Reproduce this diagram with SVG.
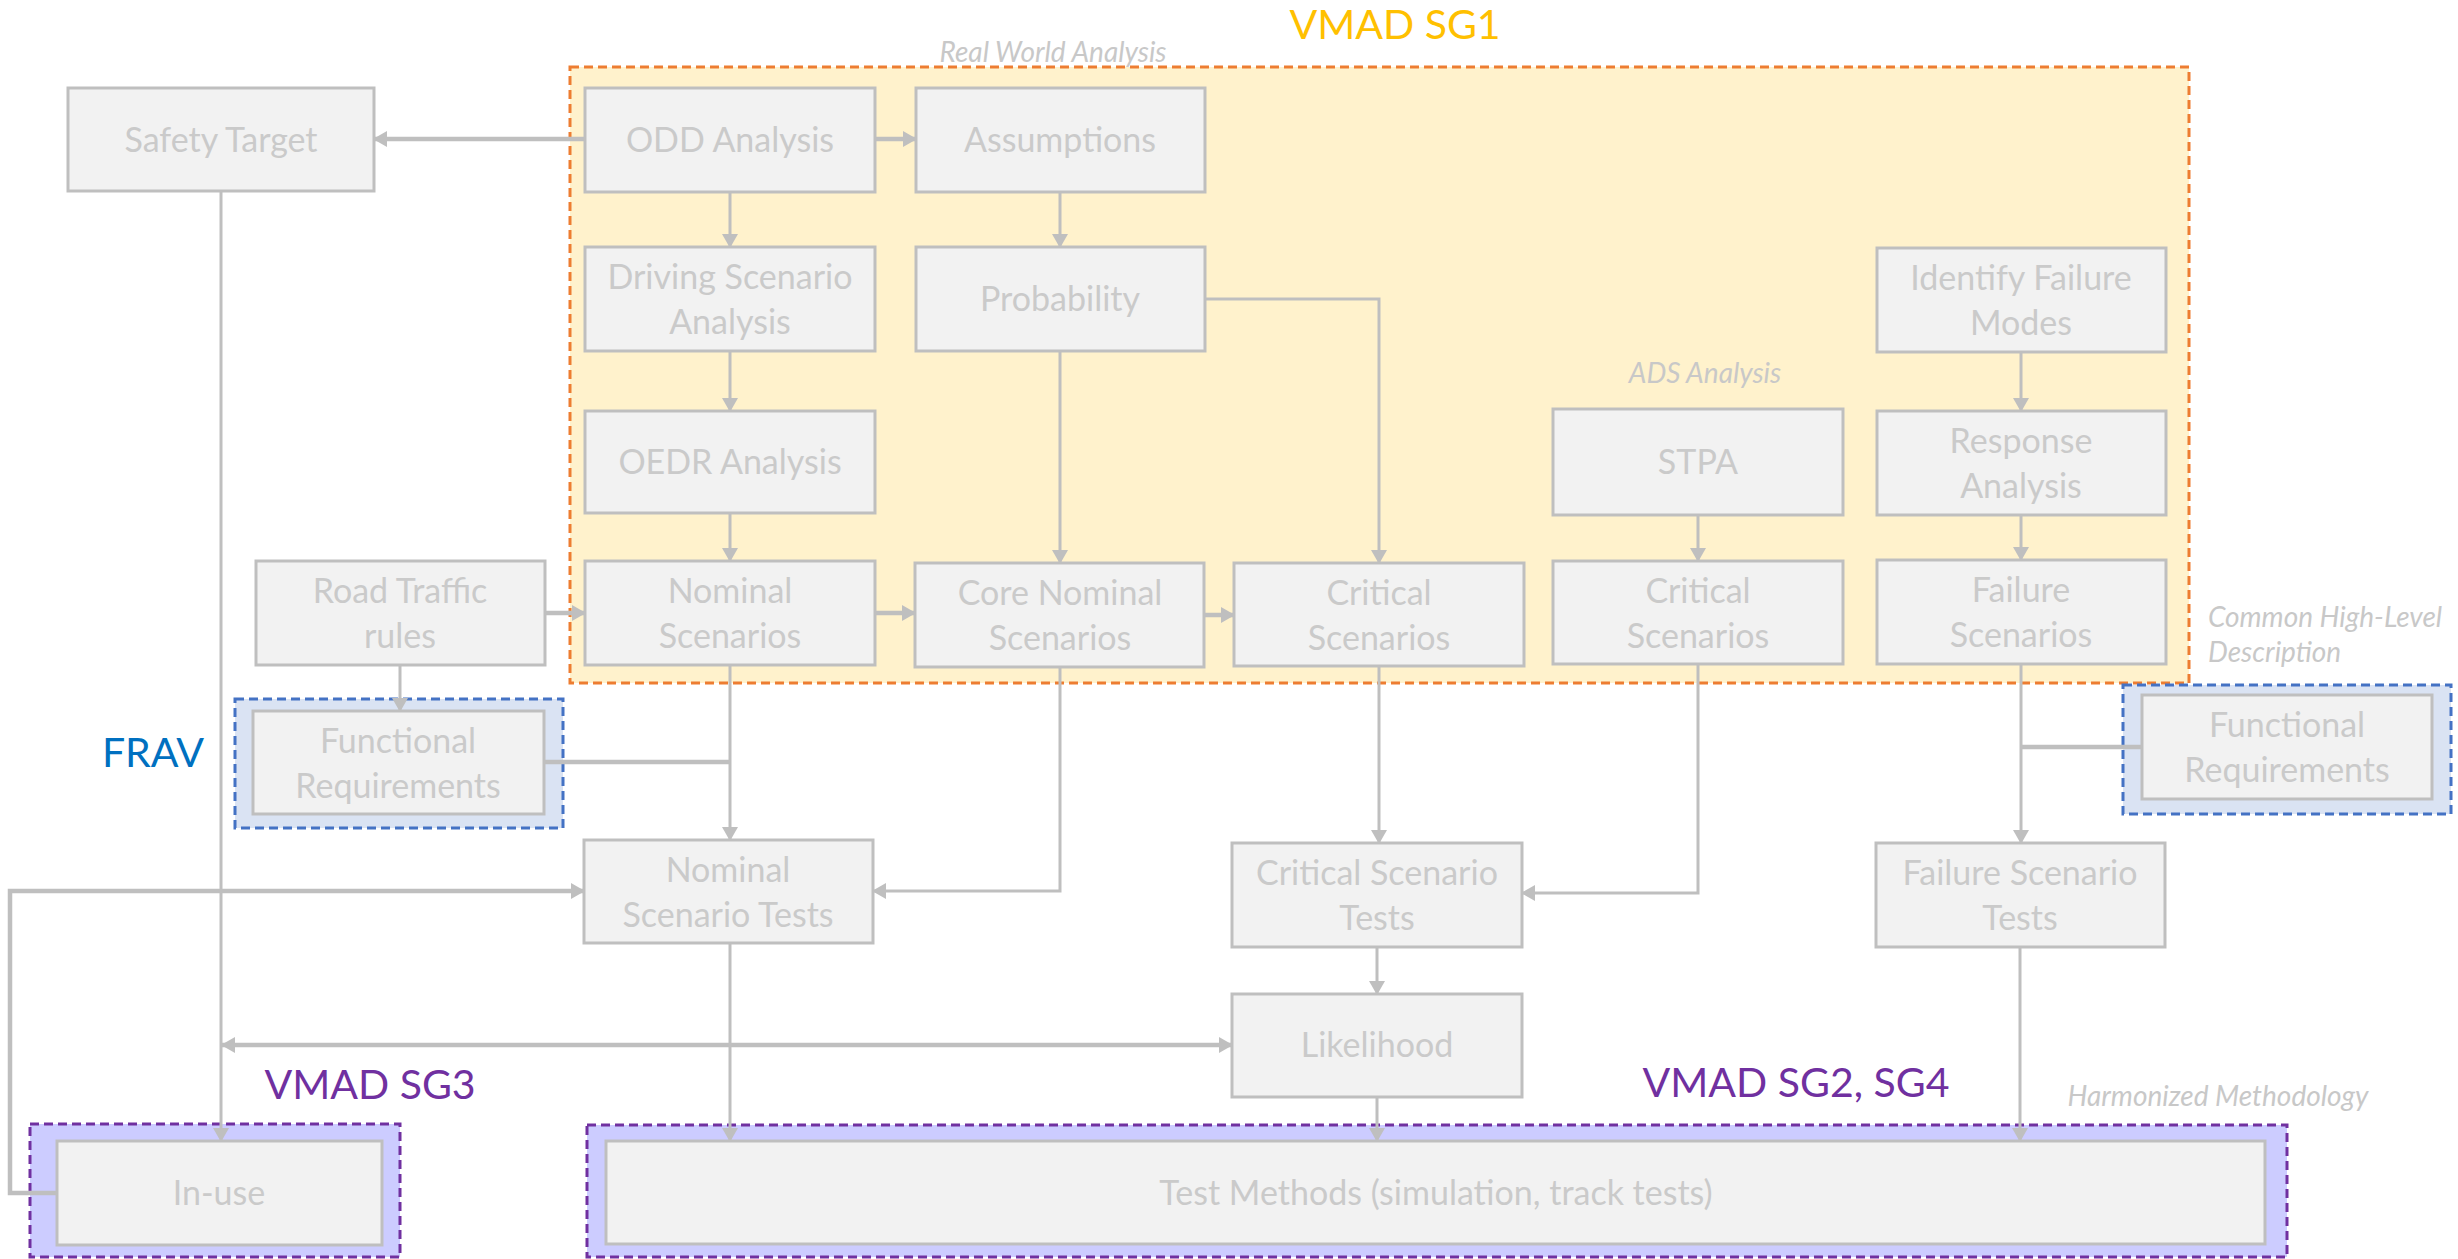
<svg xmlns="http://www.w3.org/2000/svg" width="2458" height="1259" viewBox="0 0 2458 1259">
<defs>
<style>
.box{fill:#F2F2F2;stroke:#BFBFBF;stroke-width:3}
.t{font-family:Lato,"Liberation Sans",sans-serif;font-size:34px;fill:#CACACA;text-anchor:middle}
.it{font-family:Lato,"Liberation Sans",sans-serif;font-style:italic;font-size:28px;fill:#C8C8C8}
.big{font-family:Lato,"Liberation Sans",sans-serif;font-size:41px}
.c{fill:none;stroke:#BFBFBF;stroke-width:3}
.ck{fill:none;stroke:#BFBFBF;stroke-width:4.5}
.a{marker-end:url(#arr)}
</style>
<marker id="arr" viewBox="0 0 14 16" refX="13" refY="8" markerWidth="14" markerHeight="16" markerUnits="userSpaceOnUse" orient="auto-start-reverse">
<path d="M0,0 L14,8 L0,16 z" fill="#BFBFBF"/>
</marker>
</defs>
<rect width="2458" height="1259" fill="#FFFFFF"/>

<g id="regions">
<rect x="570" y="67" width="1619" height="616" fill="#FFF2CC" stroke="#ED7D31" stroke-width="3" stroke-dasharray="9 5"/>
<rect x="235" y="699" width="328" height="129" fill="#DAE3F3" stroke="#4472C4" stroke-width="3" stroke-dasharray="9 5"/>
<rect x="2123" y="685" width="328" height="129" fill="#DAE3F3" stroke="#4472C4" stroke-width="3" stroke-dasharray="9 5"/>
<rect x="30" y="1124" width="370" height="133" fill="#CCCCFF" stroke="#7030A0" stroke-width="3" stroke-dasharray="9 5"/>
<rect x="587" y="1125" width="1700" height="132" fill="#CCCCFF" stroke="#7030A0" stroke-width="3" stroke-dasharray="9 5"/>
</g>

<g id="labels">
<text class="big" x="1395" y="39" fill="#FFC000" text-anchor="middle">VMAD SG1</text>
<text class="it" x="1053" y="62" text-anchor="middle">Real World Analysis</text>
<text class="it" x="1705" y="383" text-anchor="middle">ADS Analysis</text>
<text class="it" x="2208" y="627">Common High-Level</text>
<text class="it" x="2208" y="662">Description</text>
<text class="big" x="153" y="767" fill="#0070C0" text-anchor="middle">FRAV</text>
<text class="big" x="370" y="1099" fill="#7030A0" text-anchor="middle">VMAD SG3</text>
<text class="big" x="1796" y="1097" fill="#7030A0" text-anchor="middle">VMAD SG2, SG4</text>
<text class="it" x="2218" y="1106" text-anchor="middle">Harmonized Methodology</text>
</g>

<g id="connectors">
<path class="ck a" d="M585,139 H374"/>
<path class="ck a" d="M875,139 H916"/>
<path class="c a" d="M730,192 V247"/>
<path class="c a" d="M1060,192 V247"/>
<path class="c a" d="M730,351 V411"/>
<path class="c a" d="M1060,351 V563"/>
<path class="c a" d="M1205,299 H1379 V563"/>
<path class="c a" d="M730,513 V561"/>
<path class="ck a" d="M545,613 H585"/>
<path class="ck a" d="M875,613 H915"/>
<path class="ck a" d="M1204,615 H1234"/>
<path class="c a" d="M400,665 V711"/>
<path class="c a" d="M730,665 V840"/>
<path class="ck" d="M544,762 H730"/>
<path class="c a" d="M1060,667 V891 H873"/>
<path class="c a" d="M1698,515 V561"/>
<path class="c a" d="M1698,664 V893 H1522"/>
<path class="c a" d="M1379,666 V843"/>
<path class="c a" d="M2021,352 V411"/>
<path class="c a" d="M2021,515 V560"/>
<path class="c a" d="M2021,664 V843"/>
<path class="ck" d="M2142,747 H2021"/>
<path class="c a" d="M1377,947 V994"/>
<path class="c a" d="M1377,1097 V1141"/>
<path class="c a" d="M2020,947 V1141"/>
<path class="c a" d="M730,943 V1141"/>
<path class="c a" d="M221,191 V1141"/>
<path class="ck a" d="M222,1045 H1232" marker-start="url(#arr)"/>
<path class="ck a" d="M57,1193 H10 V891 H584"/>
</g>

<g id="safety-target"><rect class="box" x="68" y="88" width="306" height="103"/><text class="t" x="221" y="152">Safety Target</text></g>
<g id="odd-analysis"><rect class="box" x="585" y="88" width="290" height="104"/><text class="t" x="730" y="152">ODD Analysis</text></g>
<g id="assumptions"><rect class="box" x="916" y="88" width="289" height="104"/><text class="t" x="1060" y="152">Assumptions</text></g>
<g id="driving-scenario-analysis"><rect class="box" x="585" y="247" width="290" height="104"/><text class="t" x="730" y="289">Driving Scenario</text><text class="t" x="730" y="334">Analysis</text></g>
<g id="probability"><rect class="box" x="916" y="247" width="289" height="104"/><text class="t" x="1060" y="311">Probability</text></g>
<g id="oedr-analysis"><rect class="box" x="585" y="411" width="290" height="102"/><text class="t" x="730" y="474">OEDR Analysis</text></g>
<g id="road-traffic-rules"><rect class="box" x="256" y="561" width="289" height="104"/><text class="t" x="400" y="603">Road Traffic</text><text class="t" x="400" y="648">rules</text></g>
<g id="nominal-scenarios"><rect class="box" x="585" y="561" width="290" height="104"/><text class="t" x="730" y="603">Nominal</text><text class="t" x="730" y="648">Scenarios</text></g>
<g id="core-nominal-scenarios"><rect class="box" x="915" y="563" width="289" height="104"/><text class="t" x="1060" y="605">Core Nominal</text><text class="t" x="1060" y="650">Scenarios</text></g>
<g id="critical-scenarios-1"><rect class="box" x="1234" y="563" width="290" height="103"/><text class="t" x="1379" y="605">Critical</text><text class="t" x="1379" y="650">Scenarios</text></g>
<g id="stpa"><rect class="box" x="1553" y="409" width="290" height="106"/><text class="t" x="1698" y="474">STPA</text></g>
<g id="critical-scenarios-2"><rect class="box" x="1553" y="561" width="290" height="103"/><text class="t" x="1698" y="603">Critical</text><text class="t" x="1698" y="648">Scenarios</text></g>
<g id="identify-failure-modes"><rect class="box" x="1877" y="248" width="289" height="104"/><text class="t" x="2021" y="290">Identify Failure</text><text class="t" x="2021" y="335">Modes</text></g>
<g id="response-analysis"><rect class="box" x="1877" y="411" width="289" height="104"/><text class="t" x="2021" y="453">Response</text><text class="t" x="2021" y="498">Analysis</text></g>
<g id="failure-scenarios"><rect class="box" x="1877" y="560" width="289" height="104"/><text class="t" x="2021" y="602">Failure</text><text class="t" x="2021" y="647">Scenarios</text></g>
<g id="functional-requirements-left"><rect class="box" x="253" y="711" width="291" height="103"/><text class="t" x="398" y="753">Functional</text><text class="t" x="398" y="798">Requirements</text></g>
<g id="functional-requirements-right"><rect class="box" x="2142" y="695" width="290" height="104"/><text class="t" x="2287" y="737">Functional</text><text class="t" x="2287" y="782">Requirements</text></g>
<g id="nominal-scenario-tests"><rect class="box" x="584" y="840" width="289" height="103"/><text class="t" x="728" y="882">Nominal</text><text class="t" x="728" y="927">Scenario Tests</text></g>
<g id="critical-scenario-tests"><rect class="box" x="1232" y="843" width="290" height="104"/><text class="t" x="1377" y="885">Critical Scenario</text><text class="t" x="1377" y="930">Tests</text></g>
<g id="failure-scenario-tests"><rect class="box" x="1876" y="843" width="289" height="104"/><text class="t" x="2020" y="885">Failure Scenario</text><text class="t" x="2020" y="930">Tests</text></g>
<g id="likelihood"><rect class="box" x="1232" y="994" width="290" height="103"/><text class="t" x="1377" y="1057">Likelihood</text></g>
<g id="in-use"><rect class="box" x="57" y="1141" width="325" height="104"/><text class="t" x="219" y="1205">In-use</text></g>
<g id="test-methods"><rect class="box" x="606" y="1141" width="1659" height="103"/><text class="t" x="1436" y="1205">Test Methods (simulation, track tests)</text></g>
</svg>
